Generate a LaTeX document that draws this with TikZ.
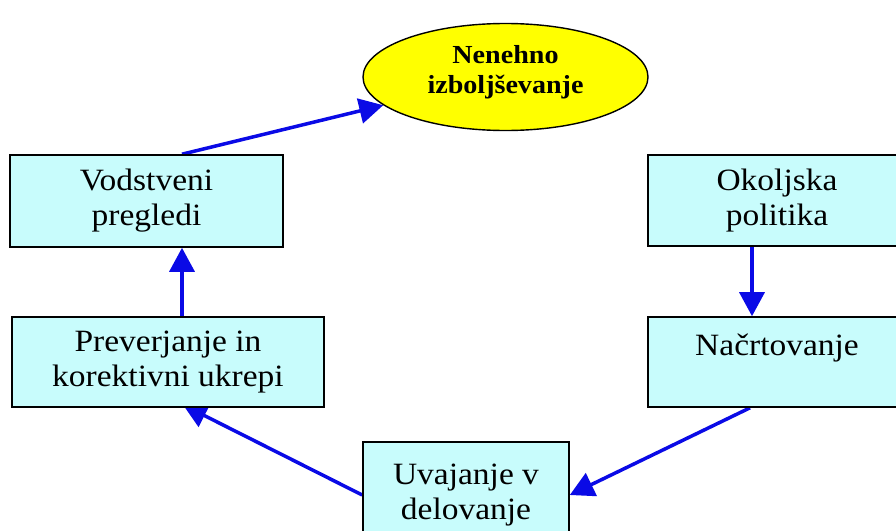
\documentclass[tikz,border=0pt]{standalone}
\usepackage{fontspec}
\setmainfont{Liberation Serif}[FakeStretch=1.08]
\usetikzlibrary{arrows.meta,shapes.geometric,backgrounds,calc}
\definecolor{boxfill}{HTML}{C8FCFC}
\definecolor{arrowblue}{HTML}{0A0AE6}
\definecolor{ellfill}{HTML}{FFFF00}
\begin{document}
\begin{tikzpicture}[x=1pt,y=-1pt,
  stepbox/.style={draw=black,line width=1.6pt,fill=boxfill,rectangle,inner sep=0pt,
    align=center,font=\fontsize{31}{35}\selectfont},
  goal/.style={draw=black,line width=1.4pt,fill=ellfill,ellipse,inner sep=0pt,
    align=center,font=\fontsize{26}{30}\selectfont\bfseries},
  flow/.style={draw=arrowblue,line width=3.5pt,-{Triangle[width=25pt,length=24pt]}}]
\useasboundingbox (0,0) rectangle (896,530);
\node[goal,minimum width=285pt,minimum height=107pt] (ell) at (505.5,77) {Nenehno\\izboljševanje\rule[-16pt]{0pt}{1pt}};
\node[stepbox,minimum width=273pt,minimum height=92pt] (vod) at (146.5,201) {Vodstveni\\pregledi};
\node[stepbox,minimum width=312pt,minimum height=90pt] (prev) at (168,362) {Preverjanje in\\korektivni ukrepi};
\node[stepbox,minimum width=258pt,minimum height=91pt] (okol) at (777,200.5) {Okoljska\\politika};
\node[stepbox,minimum width=258pt,minimum height=90pt] (nac) at (777,362) {Načrtovanje\\\mbox{}};
\node[stepbox,minimum width=206pt,minimum height=106pt] (uva) at (466,495) {Uvajanje v\\delovanje};
\begin{pgfonlayer}{background}
\fill[white] (0,0) rectangle (896,530);
\draw[flow] ([xshift=35.5pt]vod.north) -- (ell.193);
\draw[flow] ([xshift=14pt]prev.north) -- ([xshift=35.5pt]vod.south);
\draw[flow] ([xshift=-25pt]okol.south) -- ([xshift=-25pt]nac.north);
\draw[flow] ([xshift=-27pt]nac.south) -- (uva.east);
\draw[flow] (uva.west) -- ([xshift=15pt,yshift=3pt]prev.south);
\end{pgfonlayer}
\end{tikzpicture}
\end{document}
